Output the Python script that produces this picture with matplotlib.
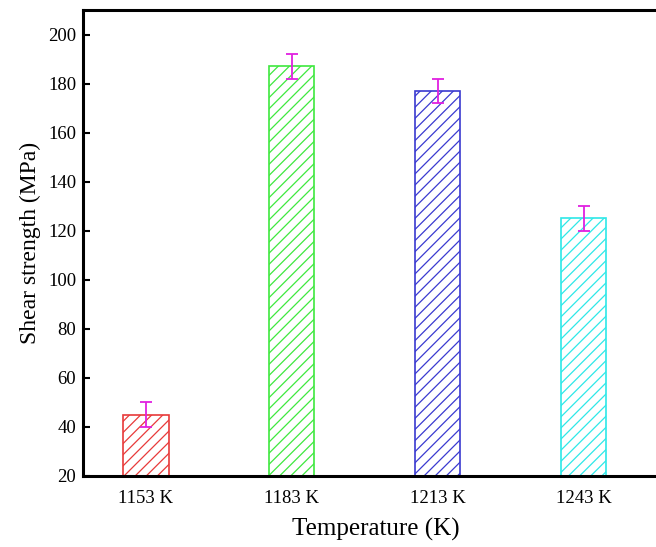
import matplotlib
matplotlib.use("Agg")
import matplotlib.pyplot as plt

# data
temps = ["1153 K", "1183 K", "1213 K", "1243 K"]
strength = [45, 187, 177, 125]
errors = [5, 5, 5, 5]
colors = ["#e83a3a", "#3ee83e", "#3a3ad0", "#2ee8e8"]

plt.rcParams['font.family'] = ['Liberation Serif', 'DejaVu Serif']
plt.rcParams['hatch.linewidth'] = 0.9

fig = plt.figure(figsize=(6.56, 5.47), dpi=100)
ax = fig.add_axes([83 / 656, 1 - 476 / 547, 1 - 83 / 656 + 0.02, (476 - 10) / 547])

x = list(range(1, len(temps) + 1))
for xi, val, err, c in zip(x, strength, errors, colors):
    ax.bar(xi, val - 20, bottom=20, width=0.31, facecolor='white', edgecolor=c,
           hatch='///', linewidth=1.2, zorder=2)
    ax.errorbar(xi, val, yerr=err, fmt='none', ecolor='#e020e0', elinewidth=1.3,
                capsize=4, capthick=1.3, zorder=3)

ax.set_xlim(1 - 63 / 146, 4.586)
ax.set_ylim(20, 210)
ax.set_yticks(range(20, 201, 20))
ax.set_xticks(x)
ax.set_xticklabels(temps)

for side in ['left', 'bottom', 'top']:
    ax.spines[side].set_linewidth(2.2)
ax.spines['right'].set_visible(False)

ax.tick_params(axis='y', direction='in', length=5, width=1.5, labelsize=13.5, pad=5)
ax.tick_params(axis='x', length=0, labelsize=13.5, pad=10)

ax.set_ylabel('Shear strength (MPa)', fontsize=17, labelpad=5)
ax.set_xlabel('Temperature (K)', fontsize=18, labelpad=8)

fig.savefig('out.png', dpi=100)
